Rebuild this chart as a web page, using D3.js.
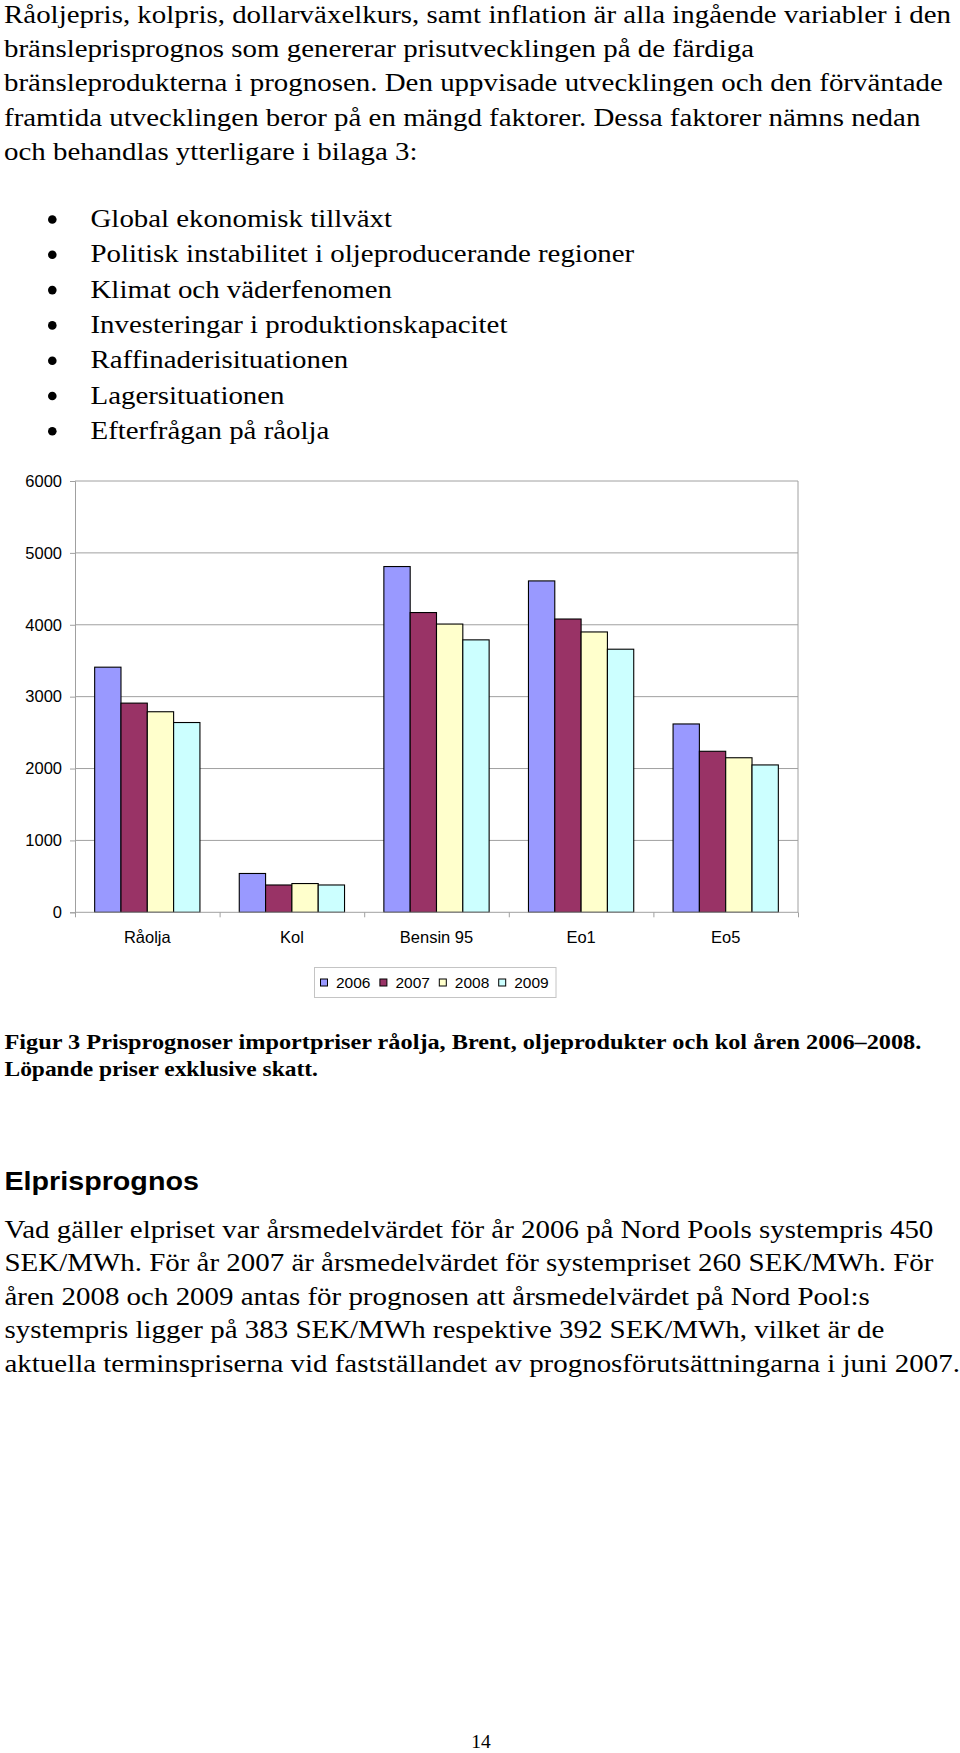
<!DOCTYPE html>
<html>
<head>
<meta charset="utf-8">
<script src="https://cdn.jsdelivr.net/npm/d3@7"></script>
<style>
  html, body { margin: 0; padding: 0; background: #fff; }
  svg { display: block; }
</style>
</head>
<body>
<svg id="page" width="960" height="1753"></svg>
<script>
// ---------------- DATA ----------------
const categories = ["Råolja", "Kol", "Bensin 95", "Eo1", "Eo5"];
const years = ["2006", "2007", "2008", "2009"];
const values2006 = [3410, 540, 4810, 4610, 2620];
const values2007 = [2910, 380, 4170, 4080, 2240];
const values2008 = [2790, 400, 4010, 3900, 2150];
const values2009 = [2640, 380, 3790, 3660, 2050];
const yTickValues = [0, 1000, 2000, 3000, 4000, 5000, 6000];
const seriesColors = ["#9999FF", "#993366", "#FFFFCC", "#CCFFFF"];

const para1 = [
  "Råoljepris, kolpris, dollarväxelkurs, samt inflation är alla ingående variabler i den",
  "bränsleprisprognos som genererar prisutvecklingen på de färdiga",
  "bränsleprodukterna i prognosen. Den uppvisade utvecklingen och den förväntade",
  "framtida utvecklingen beror på en mängd faktorer. Dessa faktorer nämns nedan",
  "och behandlas ytterligare i bilaga 3:"
];
const para1Ends = [942, 756, 943, 926, 418];
const bullets = [
  "Global ekonomisk tillväxt",
  "Politisk instabilitet i oljeproducerande regioner",
  "Klimat och väderfenomen",
  "Investeringar i produktionskapacitet",
  "Raffinaderisituationen",
  "Lagersituationen",
  "Efterfrågan på råolja"
];
const bulletEnds = [392, 635, 392, 510, 347.6, 284, 329.7];
const caption = [
  "Figur 3 Prisprognoser importpriser råolja, Brent, oljeprodukter och kol åren 2006–2008.",
  "Löpande priser exklusive skatt."
];
const captionEnds = [922, 318];
const heading = "Elprisprognos";
const para2 = [
  "Vad gäller elpriset var årsmedelvärdet för år 2006 på Nord Pools systempris 450",
  "SEK/MWh. För år 2007 är årsmedelvärdet för systempriset 260 SEK/MWh. För",
  "åren 2008 och 2009 antas för prognosen att årsmedelvärdet på Nord Pool:s",
  "systempris ligger på 383 SEK/MWh respektive 392 SEK/MWh, vilket är de",
  "aktuella terminspriserna vid fastställandet av prognosförutsättningarna i juni 2007."
];
const para2Ends = [936.6, 934, 869.5, 885, 958];
const pageNumber = "14";

(function () {
const svg = d3.select("#page");

// pick an installed font family by measuring against a monospace fallback
function pickFont(list, generic) {
  const ctx = document.createElement("canvas").getContext("2d");
  const sample = "Råoljepris kolpris WMwil 2006 Hamburgefonstiv";
  ctx.font = "40px monospace";
  const base = ctx.measureText(sample).width;
  for (const f of list) {
    ctx.font = `40px "${f}", monospace`;
    if (Math.abs(ctx.measureText(sample).width - base) > 0.5) return `"${f}", ${generic}`;
  }
  return generic;
}
const serif = pickFont(["Liberation Serif", "Times New Roman", "Tinos", "Nimbus Roman", "FreeSerif", "Noto Serif"], "serif");
const sans = pickFont(["Liberation Sans", "Arial", "Arimo", "Helvetica"], "sans-serif");

// ---------------- TEXT ----------------
function textBlock(lines, ends, x0, y0, dy, font, size, weight, perLine) {
  const g = svg.append("g");
  const ts = g.selectAll("text").data(lines).join("text")
    .style("font-family", font).attr("font-size", size)
    .attr("font-weight", weight || "normal").attr("fill", "#000")
    .text(d => d);
  const ratios = [];
  ts.each(function (d, i) {
    const w = this.getComputedTextLength();
    ratios.push((ends[i] - x0) / w);
  });
  const sx = d3.mean(ratios);
  ts.attr("transform", (d, i) => `translate(${x0},${y0 + i * dy}) scale(${perLine ? ratios[i] : sx},1)`);
  return g;
}

textBlock(para1, para1Ends, 4, 23, 34.2, serif, 26);
textBlock(bullets, bulletEnds, 90.5, 227, 35.3, serif, 26);
svg.append("g").selectAll("circle").data(bullets).join("circle")
  .attr("cx", 52.3).attr("cy", (d, i) => 219.5 + i * 35.3).attr("r", 4.3).attr("fill", "#000");
textBlock(caption, captionEnds, 4.5, 1049, 27.3, serif, 21.5, "bold", true);
textBlock([heading], [199], 4.5, 1190, 0, sans, 25.5, "bold");
textBlock(para2, para2Ends, 4.5, 1237.5, 33.5, serif, 26);
svg.append("text").attr("x", 481).attr("y", 1748).attr("text-anchor", "middle")
  .style("font-family", serif).attr("font-size", 19.5).text(pageNumber);

// ---------------- CHART ----------------
const plotLeft = 75, plotRight = 798, plotTop = 481, plotBottom = 912.3;
const gridColor = "#a0a0a0";

const x0 = d3.scaleBand().domain(categories).range([plotLeft, plotRight])
  .paddingInner(0.272).paddingOuter(0.136);
const x1 = d3.scaleBand().domain(years).range([0, x0.bandwidth()]).padding(0);
const xEdges = d3.scaleLinear().domain([0, categories.length]).range([plotLeft, plotRight]);
const y = d3.scaleLinear().domain([0, 6000]).range([plotBottom, plotTop]);

const chart = svg.append("g");

chart.append("g").selectAll("line").data(yTickValues.filter(v => v > 0)).join("line")
  .attr("x1", plotLeft).attr("x2", plotRight)
  .attr("y1", d => y(d)).attr("y2", d => y(d))
  .attr("stroke", gridColor).attr("stroke-width", 1);
chart.append("line").attr("x1", plotRight).attr("x2", plotRight).attr("y1", plotTop).attr("y2", plotBottom)
  .attr("stroke", gridColor);

const seriesValues = [values2006, values2007, values2008, values2009];
const barData = [];
categories.forEach((c, ci) => years.forEach((yr, si) =>
  barData.push({ c, yr, si, v: seriesValues[si][ci] })));
chart.append("g").selectAll("rect").data(barData).join("rect")
  .attr("x", d => x0(d.c) + x1(d.yr))
  .attr("width", x1.bandwidth())
  .attr("y", d => y(d.v))
  .attr("height", d => plotBottom - y(d.v))
  .attr("fill", d => seriesColors[d.si])
  .attr("stroke", "#000").attr("stroke-width", 1.1);

const yAxis = chart.append("g").attr("transform", `translate(${plotLeft},0)`)
  .call(d3.axisLeft(y).tickValues(yTickValues).tickSize(5).tickPadding(8).tickFormat(d3.format("d")));
yAxis.select(".domain").attr("stroke", gridColor);
yAxis.selectAll(".tick line").attr("stroke", gridColor);
yAxis.selectAll("text").style("font-family", sans).attr("font-size", 16.5).attr("fill", "#000");

const xAxisEdges = chart.append("g").attr("transform", `translate(0,${plotBottom})`)
  .call(d3.axisBottom(xEdges).tickValues(d3.range(categories.length + 1)).tickSize(5).tickFormat(""));
xAxisEdges.select(".domain").attr("stroke", gridColor).attr("d", `M${plotLeft},0H${plotRight}`);
xAxisEdges.selectAll(".tick line").attr("stroke", gridColor);

const xAxisLabels = chart.append("g").attr("transform", `translate(0,${plotBottom})`)
  .call(d3.axisBottom(x0).tickSize(0).tickPadding(18.5));
xAxisLabels.select(".domain").remove();
xAxisLabels.selectAll("text").style("font-family", sans).attr("font-size", 16.5).attr("fill", "#000");

const legend = svg.append("g");
legend.append("rect").attr("x", 314.5).attr("y", 967.5).attr("width", 241.5).attr("height", 30)
  .attr("fill", "#fff").attr("stroke", "#c4c4c4").attr("stroke-width", 1);
const li = legend.selectAll("g.item").data(years).join("g").attr("class", "item")
  .attr("transform", (d, i) => `translate(${320.5 + i * 59.4},0)`);
li.append("rect").attr("x", 0).attr("y", 979).attr("width", 7).attr("height", 7)
  .attr("fill", (d, i) => seriesColors[i]).attr("stroke", "#000").attr("stroke-width", 1);
li.append("text").attr("x", 15.5).attr("y", 988).style("font-family", sans)
  .attr("font-size", 15.5).attr("fill", "#000").text(d => d);
})();
</script>
</body>
</html>
